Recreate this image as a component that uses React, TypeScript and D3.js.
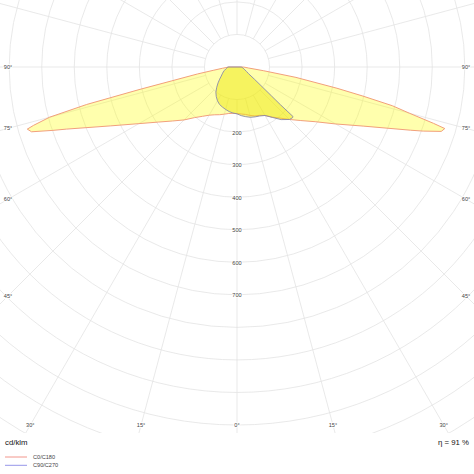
import React from 'react';
import * as d3 from 'd3';

const W = 474;
const H = 474;
const CX = 237;
const CY = 67;

// C0/C180 plane (gamma in degrees from nadir, intensity in cd/klm)
const c0Angles = [0, 5, 10, 15, 20, 25, 30, 35, 40, 45, 50, 55, 60, 65, 70, 71, 72.5, 73.5, 74, 75, 76, 77, 78, 80, 82, 85, 90];
const c180Values = [143, 143, 145, 150, 156, 162, 171, 185, 203, 230, 258, 295, 348, 428, 558, 598, 662, 672, 650, 596, 476, 309, 205, 123, 74, 45, 25];
const c0Values = [143, 145, 148, 154, 160, 164, 172, 188, 205, 228, 256, 293, 350, 430, 568, 605, 658, 666, 628, 548, 492, 397, 314, 184, 83, 36, 20];

// C90/C270 plane
const c90Angles = [0, 5, 10, 15, 20, 25, 30, 35, 40, 45, 47.5, 48.5, 49, 50, 52.5, 55, 60, 65, 70, 75, 80, 85, 90];
const c90Values = [144, 150, 155, 160, 163, 166, 172, 189, 211, 228, 231, 230, 177, 139, 89, 65, 41, 32, 26, 22, 19, 16, 13];
const c270Angles = [0, 5, 10, 15, 20, 25, 30, 35, 40, 45, 50, 55, 60, 65, 70, 75, 80, 85, 90];
const c270Values = [144, 142, 139, 135, 131, 127, 120, 111, 101, 88, 76, 65, 56, 50, 45, 40, 35, 31, 28];

const gridRadii = [100, 200, 300, 400, 500, 600, 700, 800, 900, 1000, 1100, 1200, 1300, 1400, 1500, 1600];
const radiusLabels = [200, 300, 400, 500, 600, 700];
const angleLabels = [0, 15, 30, 45, 60, 75, 90];
const legendNames = ['C0/C180', 'C90/C270'];
const legendColors = ['#f08a80', '#8a8ae6'];
const unitLabel = 'cd/klm';
const etaLabel = 'η = 91 %';

const rScale = d3.scaleLinear().domain([0, 1100]).range([0, 358]);
const toRad = (deg: number) => (deg * Math.PI) / 180;

type P = [number, number];
function curvePoints(la: number[], lv: number[], ra: number[], rv: number[]): P[] {
  const pts: P[] = [];
  for (let i = la.length - 1; i >= 0; i--) pts.push([Math.PI + toRad(la[i]), lv[i]]);
  for (let i = 1; i < ra.length; i++) pts.push([Math.PI - toRad(ra[i]), rv[i]]);
  return pts;
}

const radial = d3
  .lineRadial<P>()
  .angle((d) => d[0])
  .radius((d) => rScale(d[1]))
  .curve(d3.curveLinearClosed);

const pathC0 = radial(curvePoints(c0Angles, c180Values, c0Angles, c0Values)) || '';
const pathC90 = radial(curvePoints(c270Angles, c270Values, c90Angles, c90Values)) || '';

const FONT = "'Liberation Sans', Arial, sans-serif";

function angleLabelPos(g: number, side: number): [number, number] {
  const s = Math.sin(toRad(g));
  const c = Math.cos(toRad(g));
  const tSide = s > 1e-6 ? 229 / s : Infinity;
  const tBot = c > 1e-6 ? 358 / c : Infinity;
  if (tBot <= tSide) return [CX + side * tBot * s, CY + 358];
  return [CX + side * 229, CY + tSide * c];
}

export default function App() {
  const spokes = d3.range(0, 360, 15);
  const inner = rScale(100);
  const angleLabelItems: { x: number; y: number; t: string; k: string }[] = [];
  angleLabels.forEach((g) => {
    const sides = g === 0 ? [1] : [-1, 1];
    sides.forEach((sd) => {
      const [x, y] = angleLabelPos(g, sd);
      angleLabelItems.push({ x, y, t: `${g}°`, k: `${g}_${sd}` });
    });
  });

  return (
    <svg
      width={W}
      height={H}
      style={{ position: 'absolute', left: 0, top: 0, background: '#fff' }}
      fontFamily={FONT}
    >
      <defs>
        <clipPath id="gridClip">
          <rect x={0} y={0} width={W} height={433} />
        </clipPath>
      </defs>
      <rect x={0} y={0} width={W} height={H} fill="#fff" />
      <g clipPath="url(#gridClip)">
        <g transform={`translate(${CX},${CY})`} stroke="#e3e3e3" strokeWidth={0.8} fill="none">
          {gridRadii.map((v) => (
            <circle key={v} r={rScale(v)} />
          ))}
          {spokes.map((a) => {
            const rad = toRad(a);
            const sx = Math.sin(rad);
            const sy = Math.cos(rad);
            return (
              <line key={a} x1={inner * sx} y1={inner * sy} x2={900 * sx} y2={900 * sy} />
            );
          })}
        </g>
        <g transform={`translate(${CX},${CY})`}>
          <path d={pathC0} fill="rgba(255,255,0,0.32)" stroke="#f2a07c" strokeWidth={1} strokeLinejoin="round" />
          <path d={pathC90} fill="rgba(235,228,0,0.45)" stroke="#8a8aa8" strokeWidth={0.9} strokeLinejoin="round" />
        </g>
      </g>
      {radiusLabels.map((v) => (
        <text
          key={v}
          x={CX}
          y={CY + rScale(v) + 0.5}
          fontSize={5.6}
          fill="#444"
          textAnchor="middle"
          dominantBaseline="central"
          stroke="#fff"
          strokeWidth={1.6}
          paintOrder="stroke"
        >
          {v}
        </text>
      ))}
      {angleLabelItems.map((l) => (
        <text
          key={l.k}
          x={l.x}
          y={l.y}
          fontSize={5.6}
          fill="#444"
          textAnchor="middle"
          dominantBaseline="central"
          stroke="#fff"
          strokeWidth={2}
          paintOrder="stroke"
        >
          {l.t}
        </text>
      ))}
      <text x={5} y={445} fontSize={7.8} fill="#111">
        {unitLabel}
      </text>
      <text x={469} y={445} fontSize={7.8} fill="#111" textAnchor="end">
        {etaLabel}
      </text>
      {legendNames.map((n, i) => (
        <g key={n} transform={`translate(0,${457 + i * 8.3})`}>
          <line x1={5} x2={27} y1={0} y2={0} stroke={legendColors[i]} strokeWidth={0.9} />
          <text x={33} y={0} fontSize={5.6} fill="#444" dominantBaseline="central">
            {n}
          </text>
        </g>
      ))}
    </svg>
  );
}
